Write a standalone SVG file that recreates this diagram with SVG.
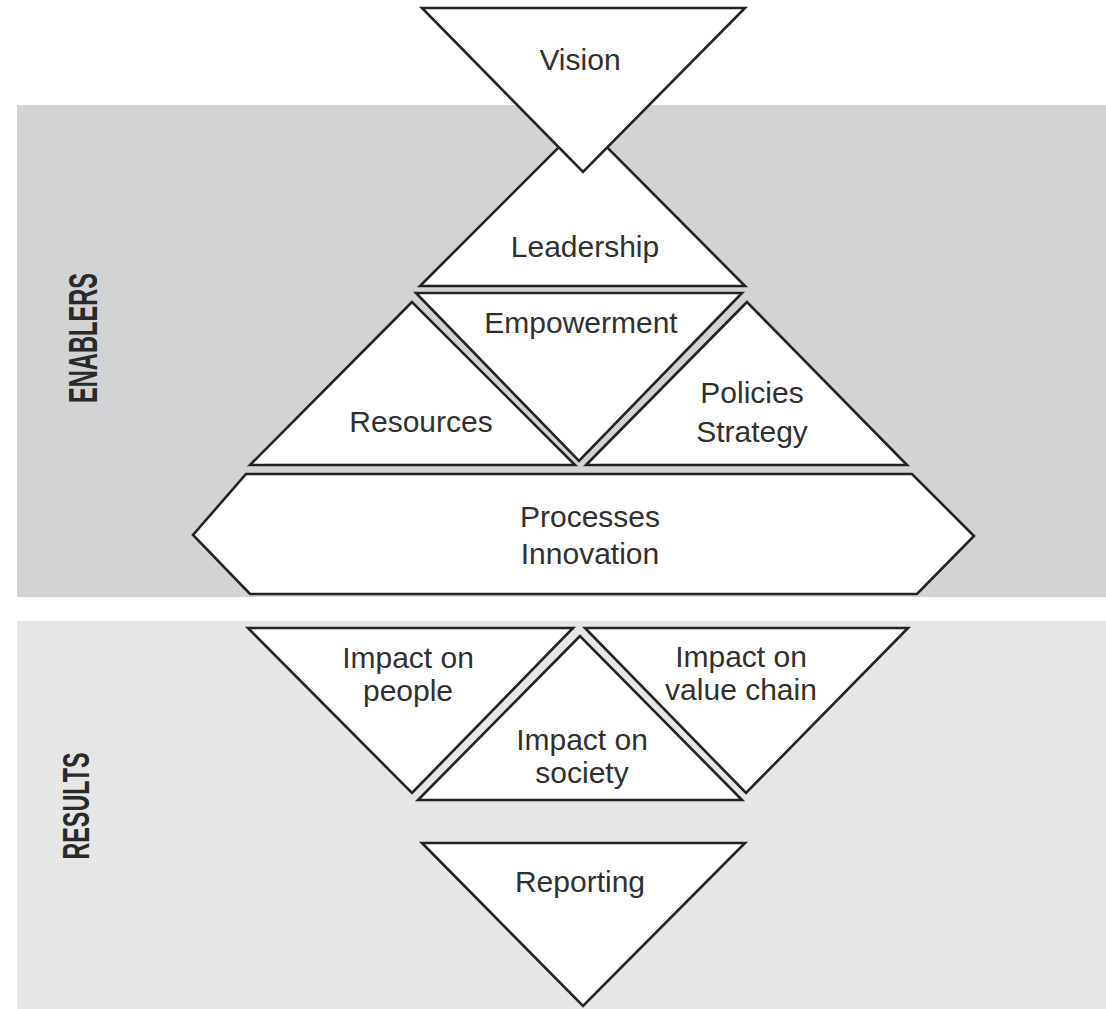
<svg xmlns="http://www.w3.org/2000/svg" width="1106" height="1009" viewBox="0 0 1106 1009">
  <style>
    .shape { fill: #ffffff; stroke: #232323; stroke-width: 2.6; stroke-linejoin: miter; }
    .lbl { font-family: "Liberation Sans", Arial, sans-serif; font-size: 30px; fill: #303030; text-anchor: middle; }
    .side { font-family: "Liberation Sans", Arial, sans-serif; font-weight: bold; fill: #2a2a2a; text-anchor: middle; }
  </style>

  <!-- background bands -->
  <rect id="band-enablers" x="17" y="105" width="1089" height="492" fill="#d2d3d5"/>
  <rect id="band-results" x="17" y="621" width="1089" height="388" fill="#e6e6e6"/>

  <!-- side captions -->
  <text class="side" font-size="40" transform="translate(97,338) rotate(-90)" textLength="130" lengthAdjust="spacingAndGlyphs">ENABLERS</text>
  <text class="side" font-size="37" transform="translate(89,806) rotate(-90)" textLength="107" lengthAdjust="spacingAndGlyphs">RESULTS</text>

  <!-- no connectors in this figure -->
  <g id="connectors"/>

  <!-- enablers -->
  <g id="leadership">
    <polygon class="shape" points="420,286 745,286 583,123"/>
    <text class="lbl" x="585" y="257">Leadership</text>
  </g>
  <g id="vision">
    <polygon class="shape" points="422,8 745,8 583,172"/>
    <text class="lbl" x="580" y="70">Vision</text>
  </g>
  <g id="empowerment">
    <polygon class="shape" points="416,293 742,293 579,461"/>
    <text class="lbl" x="581" y="333">Empowerment</text>
  </g>
  <g id="resources">
    <polygon class="shape" points="412,302 250,465 575,465"/>
    <text class="lbl" x="421" y="432">Resources</text>
  </g>
  <g id="policies-strategy">
    <polygon class="shape" points="747,302 586,465 907,465"/>
    <text class="lbl" x="752" y="403">Policies</text>
    <text class="lbl" x="752" y="442">Strategy</text>
  </g>
  <g id="processes-innovation">
    <polygon class="shape" points="246,474 912,474 974,536 917,594 250,594 193,535"/>
    <text class="lbl" x="590" y="527">Processes</text>
    <text class="lbl" x="590" y="564">Innovation</text>
  </g>

  <!-- results -->
  <g id="impact-people">
    <polygon class="shape" points="248,628 573,628 412,793"/>
    <text class="lbl" x="408" y="668">Impact on</text>
    <text class="lbl" x="408" y="701">people</text>
  </g>
  <g id="impact-society">
    <polygon class="shape" points="580,636 418,800 742,800"/>
    <text class="lbl" x="582" y="750">Impact on</text>
    <text class="lbl" x="582" y="783">society</text>
  </g>
  <g id="impact-value-chain">
    <polygon class="shape" points="585,628 908,628 746,793"/>
    <text class="lbl" x="741" y="667">Impact on</text>
    <text class="lbl" x="741" y="700">value chain</text>
  </g>
  <g id="reporting">
    <polygon class="shape" points="422,843 745,843 583,1006"/>
    <text class="lbl" x="580" y="892">Reporting</text>
  </g>
</svg>
